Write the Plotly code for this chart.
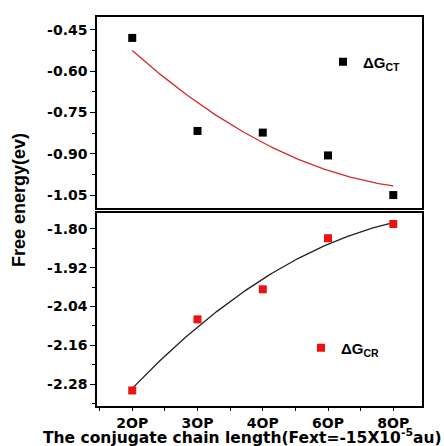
import numpy as np
import plotly.graph_objects as go
from plotly.subplots import make_subplots

categories = ["2OP", "3OP", "4OP", "6OP", "8OP"]
dg_ct = [-0.479, -0.817, -0.823, -0.906, -1.050]
dg_cr = [-2.300, -2.080, -1.987, -1.829, -1.785]

xi = np.arange(len(categories))
xf = np.linspace(0, len(categories) - 1, 100)
fit_ct = np.polyval(np.polyfit(xi, dg_ct, 2), xf)
fit_cr = np.polyval(np.polyfit(xi, dg_cr, 2), xf)

W, H = 444, 446
L, R, T, B = 97, 22, 17, 40
ph = H - T - B

def fy(py):
    return (H - B - py) / ph

fig = make_subplots(rows=2, cols=1, shared_xaxes=False, vertical_spacing=0.0)

fig.add_trace(go.Scatter(x=xf, y=fit_ct, mode="lines", line=dict(color="#d42a2a", width=1.3),
                         showlegend=False, hoverinfo="skip"), row=1, col=1)
fig.add_trace(go.Scatter(x=xi, y=dg_ct, mode="markers", name="ΔG<sub>CT</sub>",
                         marker=dict(symbol="square", size=8, color="black"),
                         legend="legend"), row=1, col=1)
fig.add_trace(go.Scatter(x=xf, y=fit_cr, mode="lines", line=dict(color="#222222", width=1.3),
                         showlegend=False, hoverinfo="skip"), row=2, col=1)
fig.add_trace(go.Scatter(x=xi, y=dg_cr, mode="markers", name="ΔG<sub>CR</sub>",
                         marker=dict(symbol="square", size=8, color="#ee1111"),
                         legend="legend2"), row=2, col=1)

tickfont = dict(family="DejaVu Sans", size=14, color="black", weight="bold")
axcommon = dict(showline=True, linecolor="black", linewidth=1.5, mirror=True,
                showgrid=False, zeroline=False)

fig.update_xaxes(**axcommon, range=[-0.54, 4.44], tickvals=list(xi), ticktext=categories,
                 ticks="outside", ticklen=3, tickwidth=1.2, tickcolor="black",
                 minor=dict(ticks="outside", ticklen=3, dtick=0.5, tick0=0.5, tickcolor="black"),
                 tickfont=dict(family="DejaVu Sans", size=14, color="black", weight="bold"),
                 row=2, col=1)
fig.update_xaxes(**axcommon, range=[-0.54, 4.44], showticklabels=False, ticks="", row=1, col=1)

fig.update_yaxes(**axcommon, range=[-1.097, -0.403], tickvals=[-0.45, -0.60, -0.75, -0.90, -1.05],
                 ticktext=["-0.45", "-0.60", "-0.75", "-0.90", "-1.05"],
                 ticks="outside", ticklen=5, tickwidth=1.2, tickcolor="black",
                 minor=dict(ticks="outside", ticklen=3, tickvals=[-0.525, -0.675, -0.825, -0.975], tickcolor="black"),
                 tickfont=tickfont, domain=[fy(208), 1.0], row=1, col=1)
fig.update_yaxes(**axcommon, range=[-2.348, -1.751], tickvals=[-1.80, -1.92, -2.04, -2.16, -2.28],
                 ticktext=["-1.80", "-1.92", "-2.04", "-2.16", "-2.28"],
                 ticks="outside", ticklen=5, tickwidth=1.2, tickcolor="black",
                 minor=dict(ticks="outside", ticklen=3, tickvals=[-1.86, -1.98, -2.10, -2.22, -2.34], tickcolor="black"),
                 tickfont=tickfont, domain=[0.0, fy(213)], row=2, col=1)

legfont = dict(family="Liberation Sans", size=15, color="black", weight="bold")
fig.update_layout(
    width=W, height=H,
    margin=dict(l=L, r=R, t=T, b=B),
    paper_bgcolor="white", plot_bgcolor="white",
    legend=dict(x=(323 - L) / (W - L - R), y=fy(62), xanchor="left", yanchor="middle",
                font=legfont, bgcolor="rgba(0,0,0,0)", borderwidth=0),
    legend2=dict(x=(301 - L) / (W - L - R), y=fy(348), xanchor="left", yanchor="middle",
                 font=legfont, bgcolor="rgba(0,0,0,0)", borderwidth=0),
    annotations=[
        dict(text="Free energy(ev)", xref="paper", yref="paper",
             x=(19 - L) / (W - L - R), y=fy(200), textangle=-90, showarrow=False,
             xanchor="center", yanchor="middle",
             font=dict(family="Liberation Sans", size=18, color="black", weight="bold")),
        dict(text="The conjugate chain length(Fext=-15X10<sup>-5</sup>au)", xref="paper", yref="paper",
             x=(242 - L) / (W - L - R), y=fy(436), showarrow=False,
             xanchor="center", yanchor="middle",
             font=dict(family="DejaVu Sans", size=15.5, color="black", weight="bold")),
    ],
)

fig.write_html("out.html")
